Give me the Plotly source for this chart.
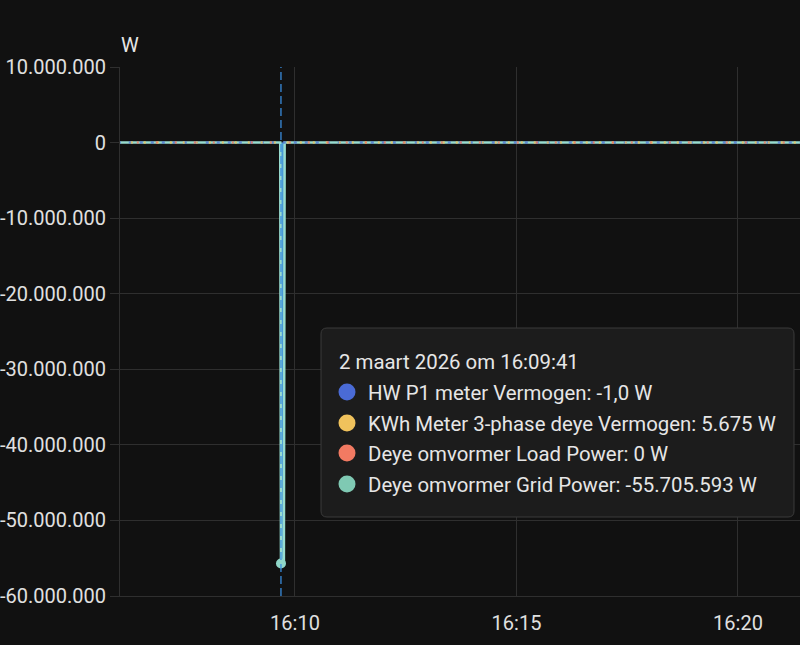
import plotly.graph_objects as go

# ---- data ----
times_grid = ["2026-03-02 16:06:00", "2026-03-02 16:07:00", "2026-03-02 16:08:00", "2026-03-02 16:09:00",
              "2026-03-02 16:09:40", "2026-03-02 16:09:41", "2026-03-02 16:09:45", "2026-03-02 16:09:46",
              "2026-03-02 16:10:30", "2026-03-02 16:12:00", "2026-03-02 16:14:00", "2026-03-02 16:16:00",
              "2026-03-02 16:18:00", "2026-03-02 16:20:00", "2026-03-02 16:21:30"]
grid_power = [3200, 2900, 3500, 3100, 3300, -55705593, -55705593, 3400, 3000, 3600, 3100, 2800, 3300, 3000, 3200]

times_other = ["2026-03-02 16:06:00", "2026-03-02 16:08:00", "2026-03-02 16:09:41", "2026-03-02 16:12:00",
               "2026-03-02 16:15:00", "2026-03-02 16:18:00", "2026-03-02 16:21:30"]
hw_p1 = [-5, 12, -1.0, 8, -3, 4, 2]
kwh_meter = [5400, 5600, 5675, 5500, 5700, 5550, 5600]
load_power = [0, 0, 0, 0, 0, 0, 0]

series_names = ["HW P1 meter Vermogen", "KWh Meter 3-phase deye Vermogen",
                "Deye omvormer Load Power", "Deye omvormer Grid Power"]
series_colors = ["#4a6bd6", "#f0c25c", "#f27a62", "#7fc9b3"]
tooltip_values = ["-1,0 W", "5.675 W", "0 W", "-55.705.593 W"]
tooltip_title = "2 maart 2026 om 16:09:41"
hover_time = "2026-03-02 16:09:41"

y_tickvals = [10000000, 0, -10000000, -20000000, -30000000, -40000000, -50000000, -60000000]
y_ticktext = ["10.000.000", "0", "-10.000.000", "-20.000.000", "-30.000.000",
              "-40.000.000", "-50.000.000", "-60.000.000"]
x_tickvals = ["2026-03-02 16:10:00", "2026-03-02 16:15:00", "2026-03-02 16:20:00"]
x_ticktext = ["16:10", "16:15", "16:20"]
x_range = ["2026-03-02 16:06:03", "2026-03-02 16:21:24"]
y_range = [-60000000, 10000000]

FS = 20
TFS = 20.4

# ---- figure ----
fig = go.Figure()
fig.add_trace(go.Scatter(x=times_grid, y=grid_power, mode="lines", line=dict(color="#98dccf", width=2.5),
                         fill="tozeroy", fillcolor="#4898d6"))
fig.add_trace(go.Scatter(x=times_other, y=hw_p1, mode="lines",
                         line=dict(color=series_colors[0], width=2.5, dash="3px,8px"), opacity=0.7))
fig.add_trace(go.Scatter(x=times_other, y=kwh_meter, mode="lines",
                         line=dict(color=series_colors[1], width=2.5, dash="2px,11px"), opacity=0.8))
fig.add_trace(go.Scatter(x=times_other, y=load_power, mode="lines",
                         line=dict(color=series_colors[2], width=2.5, dash="2px,17px"), opacity=0.8))
# hover point marker
fig.add_trace(go.Scatter(x=[hover_time], y=[grid_power[5]], mode="markers",
                         marker=dict(color="#8fd6c8", size=10)))

W, H = 800, 645
L, R, T, B = 120, 0, 67, 49
pw, ph = W - L - R, H - T - B


def px(x):
    return (x - L) / pw


def py(y):
    return (H - B - y) / ph


shapes = []
# cursor line
shapes.append(dict(type="line", xref="x", yref="paper", x0=hover_time, x1=hover_time, y0=0, y1=1,
                   line=dict(color="#3a8fe0", width=1.5, dash="8px,4px"), layer="above", opacity=0.85))

# tooltip rounded box
x0, x1, y0, y1 = 321, 794, 328, 517
r = 6
rx, ry = r / pw, r / ph
X0, X1, Y0, Y1 = px(x0), px(x1), py(y1), py(y0)
path = (f"M {X0+rx},{Y0} L {X1-rx},{Y0} Q {X1},{Y0} {X1},{Y0+ry} L {X1},{Y1-ry} Q {X1},{Y1} {X1-rx},{Y1} "
        f"L {X0+rx},{Y1} Q {X0},{Y1} {X0},{Y1-ry} L {X0},{Y0+ry} Q {X0},{Y0} {X0+rx},{Y0} Z")
shapes.append(dict(type="path", xref="paper", yref="paper", path=path,
                   fillcolor="#1c1c1c", line=dict(color="#3a3a3a", width=1), layer="above"))

annotations = []
annotations.append(dict(text=tooltip_title, xref="paper", yref="paper", x=px(337), y=py(362),
                        xanchor="left", yanchor="middle", showarrow=False,
                        font=dict(size=TFS, color="#e6e6e6")))
row_y = [393, 424, 454, 485]
for name, col, val, yy in zip(series_names, series_colors, tooltip_values, row_y):
    shapes.append(dict(type="circle", xref="paper", yref="paper", xsizemode="pixel", ysizemode="pixel",
                       xanchor=px(347), yanchor=py(yy - 1), x0=-8.5, x1=8.5, y0=-8.5, y1=8.5,
                       fillcolor=col, line=dict(width=0), layer="above"))
    annotations.append(dict(text=f"{name}: {val}", xref="paper", yref="paper", x=px(366), y=py(yy),
                            xanchor="left", yanchor="middle", showarrow=False,
                            font=dict(size=TFS, color="#e6e6e6")))

# unit label
annotations.append(dict(text="W", xref="paper", yref="paper", x=px(119), y=py(45),
                        xanchor="left", yanchor="middle", showarrow=False,
                        font=dict(size=FS, color="#e6e6e6")))

fig.update_layout(
    width=W, height=H,
    margin=dict(l=L, r=R, t=T, b=B),
    paper_bgcolor="#111111", plot_bgcolor="#111111",
    font=dict(family="Roboto", size=FS, color="#e0e0e0"),
    showlegend=False,
    shapes=shapes, annotations=annotations,
    xaxis=dict(type="date", range=x_range, tickvals=x_tickvals, ticktext=x_ticktext,
               showgrid=True, gridcolor="#2f2f2f", gridwidth=1, zeroline=False,
               showline=True, linecolor="#2f2f2f", ticks="", ticklabelstandoff=9,
               tickfont=dict(size=FS, color="#e0e0e0")),
    yaxis=dict(range=y_range, tickvals=y_tickvals, ticktext=y_ticktext,
               showgrid=True, gridcolor="#2f2f2f", gridwidth=1, zeroline=False,
               showline=True, linecolor="#2f2f2f", ticks="outside", ticklen=9, tickcolor="#2f2f2f",
               tickfont=dict(size=FS, color="#e0e0e0")),
)

fig.write_html("out.html", config={"displayModeBar": False},
               post_script="document.body.style.margin='0px';document.body.style.background='#111111';")
